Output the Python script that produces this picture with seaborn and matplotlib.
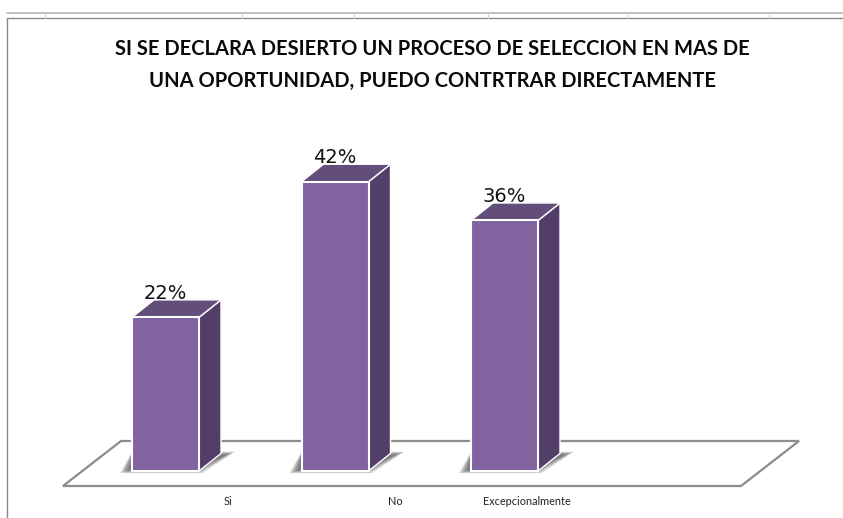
import matplotlib
matplotlib.use("Agg")
import matplotlib.pyplot as plt
import seaborn as sns
from matplotlib.patches import Polygon
from matplotlib.lines import Line2D

categories = ["Si", "No", "Excepcionalmente"]
values = [22.2, 41.8, 36.2]
title = "SI SE DECLARA DESIERTO UN PROCESO DE SELECCION EN MAS DE\nUNA OPORTUNIDAD, PUEDO CONTRTRAR DIRECTAMENTE"
label_offsets = [0.369, 0.357, 0.133]

W, H = 843, 518
FRONT, SIDE, TOP = "#8163A0", "#523E68", "#624D7B"
STEP_X, STEP_Y = 169.5, 6.92     # pixels per category / per percent
BASE_X, BASE_Y, AX_BOTTOM = 165.5, 471, 490
DX, DY = 22 / STEP_X, 17.5 / STEP_Y

sns.set_theme(style="white")
plt.rcParams["font.family"] = ["DejaVu Sans"]
fig = plt.figure(figsize=(W / 100, H / 100), dpi=100, facecolor="white")
ax = fig.add_axes([0, (H - AX_BOTTOM) / H, 1, AX_BOTTOM / H])
ax.patch.set_alpha(0)
sns.barplot(x=categories, y=values, color=FRONT, saturation=1, width=67 / STEP_X,
            edgecolor="white", linewidth=1.5, ax=ax, zorder=5, errorbar=None)
ax.set_xlim(-BASE_X / STEP_X, (W - BASE_X) / STEP_X)
ax.set_ylim(-(AX_BOTTOM - BASE_Y) / STEP_Y, BASE_Y / STEP_Y)
ax.set_xlabel(""); ax.set_ylabel(""); ax.set_yticks([])
ax.set_xticks([i + o for i, o in enumerate(label_offsets)], categories,
              fontfamily="Lato", fontsize=7.8, color="#222222")
ax.tick_params(axis="x", length=0, pad=4)
sns.despine(ax=ax, left=True, bottom=True)


def px(x, y):
    return (x / W, 1 - y / H)


# spreadsheet frame behind the chart
for (x0, y0, x1, y1, c, lw) in [(7, 13, W, 13, "#b5b5b5", 1.2), (7, 18, W, 18, "#8a8a8a", 1.0),
                                (7, 18, 7, H, "#8a8a8a", 1.0)]:
    fig.add_artist(Line2D([x0 / W, x1 / W], [1 - y0 / H, 1 - y1 / H], color=c, lw=lw))
for x in [45, 242, 354, 488, 628, 769]:
    fig.add_artist(Line2D([x / W, x / W], [1 - 13 / H, 1 - 18 / H], color="#d0d0d0", lw=0.8))

# floor
ax.add_patch(Polygon([px(63, 486), px(121, 441), px(799, 441), px(741, 486)], closed=True,
                     transform=fig.transFigure, facecolor="white", edgecolor="#8c8c8c",
                     lw=1.6, zorder=1, clip_on=False))

# pseudo-3D faces, shadows and labels built from the bars themselves
for bar in list(ax.containers[0]):
    x0, x1, h = bar.get_x(), bar.get_x() + bar.get_width(), bar.get_height()
    for k in range(5):
        g = k * 0.012
        gy = k * 0.1
        ax.add_patch(Polygon([(x0 - 0.07 + g, -0.3 + gy), (x1 + 0.02 - g, -0.3 + gy),
                              (x1 + DX + 0.083 - g, DY * 1.1 - gy), (x0, DY * 1.1 - gy)],
                             facecolor="#404040", alpha=0.2, edgecolor="none", zorder=2))
    ax.add_patch(Polygon([(x1, 0), (x1 + DX, DY), (x1 + DX, h + DY), (x1, h)], facecolor=SIDE,
                         edgecolor="white", lw=1.0, zorder=4))
    ax.add_patch(Polygon([(x0, h), (x0 + DX, h + DY), (x1 + DX, h + DY), (x1, h)], facecolor=TOP,
                         edgecolor="white", lw=1.0, zorder=4))

labels = ax.bar_label(ax.containers[0], fmt="%.0f%%", padding=10.5, fontsize=14, color="#111111", zorder=6)

fig.text(432.5 / W, 1 - 65 / H, title, ha="center", va="center", fontfamily="Lato",
         fontweight="bold", fontsize=14.5, color="#0a0a0a", linespacing=1.7)

fig.savefig("out.png", dpi=100, facecolor="white")
